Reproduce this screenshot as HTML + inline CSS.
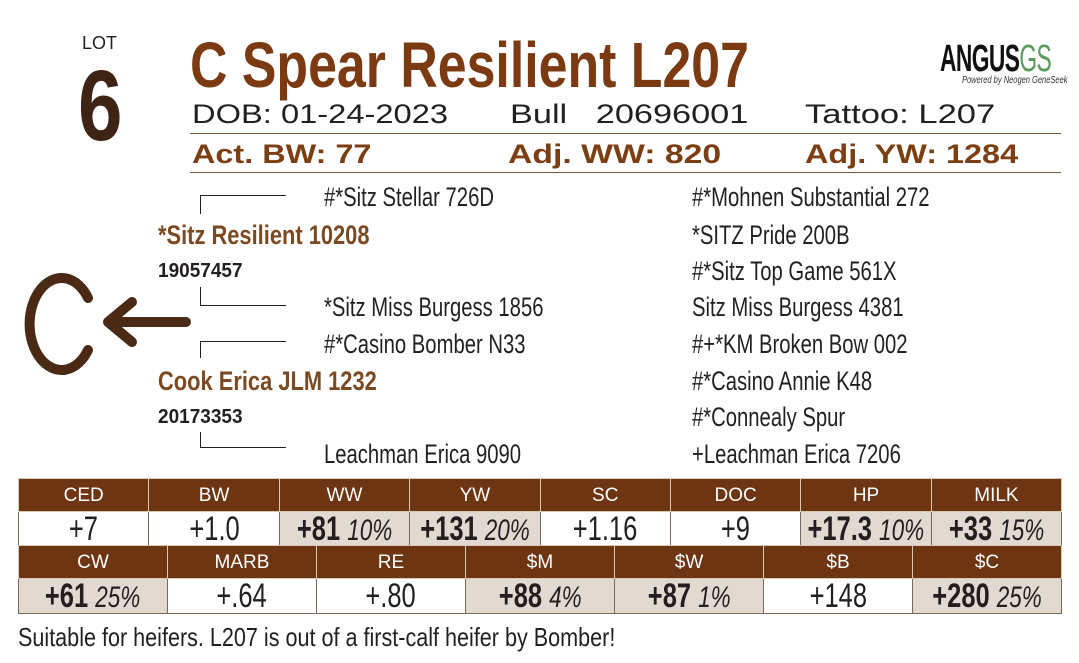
<!DOCTYPE html>
<html><head><meta charset="utf-8"><style>
*{margin:0;padding:0;box-sizing:border-box}
body{width:1079px;height:663px;background:#fff;position:relative;overflow:hidden;font-family:"Liberation Sans",sans-serif;color:#231f20}
.a{position:absolute;white-space:nowrap;line-height:1;transform-origin:left top}
.p{font-size:27px;transform:scaleX(.75)}
.br{color:#7b3f13}
.ln{position:absolute;background:#231f20}
table{position:absolute;left:18px;border-collapse:collapse;table-layout:fixed}
td{border:1px solid #7a6a5a;text-align:center;line-height:1;white-space:nowrap;overflow:hidden}
tr.h td{background:#6e3512;color:#fff;font-size:19px;border-color:#d9c9b8;height:33px}
tr.v td{font-size:34px;height:34px}
tr.v td span{display:inline-block;transform:scaleX(.75);margin:0 -40px}
tr.v td.s span{font-weight:bold}
tr.v td i{font-size:30px;font-weight:normal}
.s{background:#e2d9d0}
</style></head><body>
<div class="a" style="left:82px;top:34px;font-size:18px">LOT</div>
<div class="a" style="left:78px;top:56px;font-size:100px;font-weight:bold;color:#3d2414;transform:scaleX(.8)">6</div>
<div class="a" style="left:190px;top:33px;font-size:64px;font-weight:bold;color:#7b3a12;transform:scaleX(.81)">C Spear Resilient L207</div>
<div class="a" style="left:192px;top:101px;font-size:27px;transform:scaleX(1.21)">DOB: 01-24-2023</div>
<div class="a" style="left:510px;top:101px;font-size:27px;transform:scaleX(1.27)">Bull&nbsp;&nbsp;&nbsp;20696001</div>
<div class="a" style="left:805px;top:101px;font-size:27px;transform:scaleX(1.28)">Tattoo:&nbsp;L207</div>
<div class="ln" style="left:190px;top:133px;width:871px;height:1px;background:#7b5a3a"></div>
<div class="a br" style="left:192px;top:141px;font-size:27px;font-weight:bold;transform:scaleX(1.2)">Act. BW: 77</div>
<div class="a br" style="left:508px;top:141px;font-size:27px;font-weight:bold;transform:scaleX(1.25)">Adj. WW: 820</div>
<div class="a br" style="left:805px;top:141px;font-size:27px;font-weight:bold;transform:scaleX(1.2)">Adj. YW: 1284</div>
<div class="ln" style="left:190px;top:172px;width:871px;height:1px;background:#7b5a3a"></div>
<div class="a" style="left:940px;top:40px;font-size:38px;font-weight:bold;letter-spacing:-1px;color:#111;transform:scaleX(.6)">ANGUS<span style="color:#5a9a5a;font-weight:normal">GS</span></div>
<div class="a" style="left:962px;top:76px;font-size:10px;font-style:italic;color:#333;transform:scaleX(.75)">Powered by Neogen GeneSeek</div>

<div class="ln" style="left:200px;top:195px;width:86px;height:1px"></div>
<div class="ln" style="left:200px;top:195px;width:1px;height:19px"></div>
<div class="ln" style="left:200px;top:287px;width:1px;height:19px"></div>
<div class="ln" style="left:200px;top:305px;width:86px;height:1px"></div>
<div class="ln" style="left:200px;top:341px;width:86px;height:1px"></div>
<div class="ln" style="left:200px;top:341px;width:1px;height:17px"></div>
<div class="ln" style="left:200px;top:432px;width:1px;height:16px"></div>
<div class="ln" style="left:200px;top:447px;width:86px;height:1px"></div>

<div class="a p" style="left:324px;top:184px">#*Sitz Stellar 726D</div>
<div class="a" style="left:158px;top:222px;font-size:27px;font-weight:bold;color:#7b4a22;transform:scaleX(.81)">*Sitz Resilient 10208</div>
<div class="a" style="left:158px;top:261px;font-size:20px;font-weight:bold;transform:scaleX(.95)">19057457</div>
<div class="a p" style="left:324px;top:294px">*Sitz Miss Burgess 1856</div>
<div class="a p" style="left:324px;top:331px">#*Casino Bomber N33</div>
<div class="a" style="left:158px;top:368px;font-size:27px;font-weight:bold;color:#7b4a22;transform:scaleX(.81)">Cook Erica JLM 1232</div>
<div class="a" style="left:158px;top:407px;font-size:20px;font-weight:bold;transform:scaleX(.95)">20173353</div>
<div class="a p" style="left:324px;top:441px">Leachman Erica 9090</div>

<div class="a p" style="left:692px;top:184px">#*Mohnen Substantial 272</div>
<div class="a p" style="left:692px;top:222px">*SITZ Pride 200B</div>
<div class="a p" style="left:692px;top:258px">#*Sitz Top Game 561X</div>
<div class="a p" style="left:692px;top:294px">Sitz Miss Burgess 4381</div>
<div class="a p" style="left:692px;top:331px">#+*KM Broken Bow 002</div>
<div class="a p" style="left:692px;top:368px">#*Casino Annie K48</div>
<div class="a p" style="left:692px;top:404px">#*Connealy Spur</div>
<div class="a p" style="left:692px;top:441px">+Leachman Erica 7206</div>

<svg style="position:absolute;left:0;top:260px" width="200" height="130">
<path d="M88 38 A32 46 0 1 0 88 90" fill="none" stroke="#4a2a14" stroke-width="10" stroke-linecap="round"/>
<path d="M186 62 L108 62 M132 42 L108 62 L132 82" fill="none" stroke="#4a2a14" stroke-width="10" stroke-linecap="round" stroke-linejoin="round"/>
</svg>

<table style="top:478px;width:1043px">
<colgroup><col span="8" style="width:130.4px"></colgroup>
<tr class="h"><td>CED</td><td>BW</td><td>WW</td><td>YW</td><td>SC</td><td>DOC</td><td>HP</td><td>MILK</td></tr>
<tr class="v"><td><span>+7</span></td><td><span>+1.0</span></td><td class="s"><span>+81 <i>10%</i></span></td><td class="s"><span>+131 <i>20%</i></span></td><td><span>+1.16</span></td><td><span>+9</span></td><td class="s"><span>+17.3 <i>10%</i></span></td><td class="s"><span>+33 <i>15%</i></span></td></tr>
</table>
<table style="top:545px;width:1043px">
<colgroup><col span="7" style="width:149px"></colgroup>
<tr class="h"><td>CW</td><td>MARB</td><td>RE</td><td>$M</td><td>$W</td><td>$B</td><td>$C</td></tr>
<tr class="v"><td class="s"><span>+61 <i>25%</i></span></td><td><span>+.64</span></td><td><span>+.80</span></td><td class="s"><span>+88 <i>4%</i></span></td><td class="s"><span>+87 <i>1%</i></span></td><td><span>+148</span></td><td class="s"><span>+280 <i>25%</i></span></td></tr>
</table>
<div class="a" style="left:18px;top:624px;font-size:26px;transform:scaleX(.83)">Suitable for heifers. L207 is out of a first-calf heifer by Bomber!</div>
</body></html>
